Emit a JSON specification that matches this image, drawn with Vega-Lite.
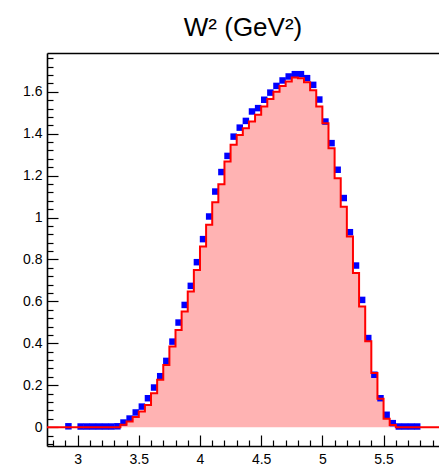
{
  "$schema": "https://vega.github.io/schema/vega-lite/v6.json",
  "autosize": {"type": "none"},
  "padding": {"left": 47, "top": 53, "right": 0, "bottom": 19},
  "width": 392,
  "height": 393,
  "background": "white",
  "title": {
    "text": "W² (GeV²)",
    "font": "Liberation Sans",
    "fontSize": 26,
    "fontWeight": "normal",
    "color": "black",
    "anchor": "middle",
    "frame": "group",
    "baseline": "alphabetic",
    "offset": 18,
    "dy": 29
  },
  "config": {
    "view": {"stroke": null},
    "axis": {
      "domainColor": "black",
      "domainWidth": 1.6,
      "tickColor": "black",
      "tickWidth": 1.2,
      "labelFont": "Liberation Sans",
      "labelFontSize": 14,
      "labelColor": "black",
      "labelFlush": false,
      "labelOverlap": false,
      "grid": false
    }
  },
  "datasets": {
    "hist": [
      {"lo": 2.75, "v": 0}, {"lo": 2.8, "v": 0}, {"lo": 2.85, "v": 0}, {"lo": 2.9, "v": 0},
      {"lo": 2.95, "v": 0}, {"lo": 3.0, "v": 0}, {"lo": 3.05, "v": 0}, {"lo": 3.1, "v": 0},
      {"lo": 3.15, "v": 0}, {"lo": 3.2, "v": 0}, {"lo": 3.25, "v": 0}, {"lo": 3.3, "v": 0},
      {"lo": 3.35, "v": 0.011}, {"lo": 3.4, "v": 0.027}, {"lo": 3.45, "v": 0.048}, {"lo": 3.5, "v": 0.075},
      {"lo": 3.55, "v": 0.106}, {"lo": 3.6, "v": 0.162}, {"lo": 3.65, "v": 0.226}, {"lo": 3.7, "v": 0.297},
      {"lo": 3.75, "v": 0.385}, {"lo": 3.8, "v": 0.464}, {"lo": 3.85, "v": 0.552}, {"lo": 3.9, "v": 0.647},
      {"lo": 3.95, "v": 0.75}, {"lo": 4.0, "v": 0.862}, {"lo": 4.05, "v": 0.965}, {"lo": 4.1, "v": 1.073},
      {"lo": 4.15, "v": 1.159}, {"lo": 4.2, "v": 1.267}, {"lo": 4.25, "v": 1.347}, {"lo": 4.3, "v": 1.394},
      {"lo": 4.35, "v": 1.426}, {"lo": 4.4, "v": 1.458}, {"lo": 4.45, "v": 1.49}, {"lo": 4.5, "v": 1.53},
      {"lo": 4.55, "v": 1.565}, {"lo": 4.6, "v": 1.6}, {"lo": 4.65, "v": 1.628}, {"lo": 4.7, "v": 1.649},
      {"lo": 4.75, "v": 1.668}, {"lo": 4.8, "v": 1.665}, {"lo": 4.85, "v": 1.645}, {"lo": 4.9, "v": 1.607},
      {"lo": 4.95, "v": 1.53}, {"lo": 5.0, "v": 1.45}, {"lo": 5.05, "v": 1.331}, {"lo": 5.1, "v": 1.188},
      {"lo": 5.15, "v": 1.052}, {"lo": 5.2, "v": 0.909}, {"lo": 5.25, "v": 0.735}, {"lo": 5.3, "v": 0.575},
      {"lo": 5.35, "v": 0.41}, {"lo": 5.4, "v": 0.258}, {"lo": 5.45, "v": 0.135}, {"lo": 5.5, "v": 0.04},
      {"lo": 5.55, "v": 0.01}, {"lo": 5.6, "v": 0}, {"lo": 5.65, "v": 0}, {"lo": 5.7, "v": 0},
      {"lo": 5.75, "v": 0}, {"lo": 5.8, "v": 0}, {"lo": 5.85, "v": 0}, {"lo": 5.9, "v": 0},
      {"lo": 5.95, "v": 0}, {"lo": 6.0, "v": 0}
    ],
    "pts": [
      {"x": 2.925, "v": 0.004},
      {"x": 3.025, "v": 0.003}, {"x": 3.075, "v": 0.003}, {"x": 3.125, "v": 0.003}, {"x": 3.175, "v": 0.003},
      {"x": 3.225, "v": 0.003}, {"x": 3.275, "v": 0.003}, {"x": 3.325, "v": 0.004},
      {"x": 3.375, "v": 0.022}, {"x": 3.425, "v": 0.041}, {"x": 3.475, "v": 0.07}, {"x": 3.525, "v": 0.098},
      {"x": 3.575, "v": 0.138}, {"x": 3.625, "v": 0.189}, {"x": 3.675, "v": 0.243}, {"x": 3.725, "v": 0.316},
      {"x": 3.775, "v": 0.408}, {"x": 3.825, "v": 0.499}, {"x": 3.875, "v": 0.583}, {"x": 3.925, "v": 0.674},
      {"x": 3.975, "v": 0.787}, {"x": 4.025, "v": 0.897}, {"x": 4.075, "v": 1.005}, {"x": 4.125, "v": 1.124},
      {"x": 4.175, "v": 1.217}, {"x": 4.225, "v": 1.294}, {"x": 4.275, "v": 1.386}, {"x": 4.325, "v": 1.429},
      {"x": 4.375, "v": 1.461}, {"x": 4.425, "v": 1.506}, {"x": 4.475, "v": 1.522}, {"x": 4.525, "v": 1.562},
      {"x": 4.575, "v": 1.596}, {"x": 4.625, "v": 1.628}, {"x": 4.675, "v": 1.654}, {"x": 4.725, "v": 1.673},
      {"x": 4.775, "v": 1.684}, {"x": 4.825, "v": 1.684}, {"x": 4.875, "v": 1.665}, {"x": 4.925, "v": 1.633},
      {"x": 4.975, "v": 1.563}, {"x": 5.025, "v": 1.458}, {"x": 5.075, "v": 1.355}, {"x": 5.125, "v": 1.228},
      {"x": 5.175, "v": 1.093}, {"x": 5.225, "v": 0.93}, {"x": 5.275, "v": 0.771}, {"x": 5.325, "v": 0.607},
      {"x": 5.375, "v": 0.425}, {"x": 5.425, "v": 0.25}, {"x": 5.475, "v": 0.138}, {"x": 5.525, "v": 0.059},
      {"x": 5.575, "v": 0.019}, {"x": 5.625, "v": 0.003}, {"x": 5.675, "v": 0.003}, {"x": 5.725, "v": 0.003},
      {"x": 5.775, "v": 0.003}
    ]
  },
  "resolve": {"axis": {"x": "independent"}},
  "layer": [
    {
      "data": {"name": "hist"},
      "mark": {"type": "area", "interpolate": "step-after", "color": "#ffb3b3", "clip": true},
      "encoding": {
        "x": {
          "field": "lo", "type": "quantitative",
          "scale": {"domain": [2.75, 5.953], "nice": false, "zero": false},
          "axis": {
            "orient": "bottom",
            "title": null,
            "tickCount": 1000,
            "values": [2.8, 2.9, 3, 3.1, 3.2, 3.3, 3.4, 3.5, 3.6, 3.7, 3.8, 3.9, 4, 4.1, 4.2, 4.3, 4.4, 4.5, 4.6, 4.7, 4.8, 4.9, 5, 5.1, 5.2, 5.3, 5.4, 5.5, 5.6, 5.7, 5.8, 5.9],
            "labelExpr": "abs(datum.value*2 - round(datum.value*2)) < 0.001 ? format(datum.value, '~g') : ''",
            "labelOverlap": false,
            "tickSize": {"condition": {"test": "abs(datum.value*2 - round(datum.value*2)) < 0.001", "value": -11}, "value": -6},
            "labelPadding": 17
          }
        },
        "y": {
          "field": "v", "type": "quantitative",
          "scale": {"domain": [-0.09, 1.785], "nice": false, "zero": false},
          "axis": {
            "title": null,
            "tickCount": 1000,
            "values": [-0.08, -0.04, 0, 0.04, 0.08, 0.12, 0.16, 0.2, 0.24, 0.28, 0.32, 0.36, 0.4, 0.44, 0.48, 0.52, 0.56, 0.6, 0.64, 0.68, 0.72, 0.76, 0.8, 0.84, 0.88, 0.92, 0.96, 1, 1.04, 1.08, 1.12, 1.16, 1.2, 1.24, 1.28, 1.32, 1.36, 1.4, 1.44, 1.48, 1.52, 1.56, 1.6, 1.64, 1.68, 1.72, 1.76],
            "labelExpr": "abs(datum.value*5 - round(datum.value*5)) < 0.001 ? format(datum.value, '~g') : ''",
            "labelOverlap": false,
            "tickSize": {"condition": {"test": "abs(datum.value*5 - round(datum.value*5)) < 0.001", "value": -11}, "value": -6},
            "labelPadding": 16
          }
        }
      }
    },
    {
      "data": {"name": "pts"},
      "mark": {"type": "square", "color": "#0000ff", "opacity": 1, "size": 42, "clip": true},
      "encoding": {
        "x": {"field": "x", "type": "quantitative", "axis": {"orient": "top", "title": null, "ticks": false, "labels": false, "domainWidth": 1.5}},
        "y": {"field": "v", "type": "quantitative", "axis": {"title": null}}
      }
    },
    {
      "data": {"name": "hist"},
      "mark": {"type": "line", "interpolate": "step-after", "color": "#ff0000", "strokeWidth": 2, "clip": true},
      "encoding": {
        "x": {"field": "lo", "type": "quantitative", "axis": null},
        "y": {"field": "v", "type": "quantitative", "axis": {"title": null}}
      }
    }
  ]
}
